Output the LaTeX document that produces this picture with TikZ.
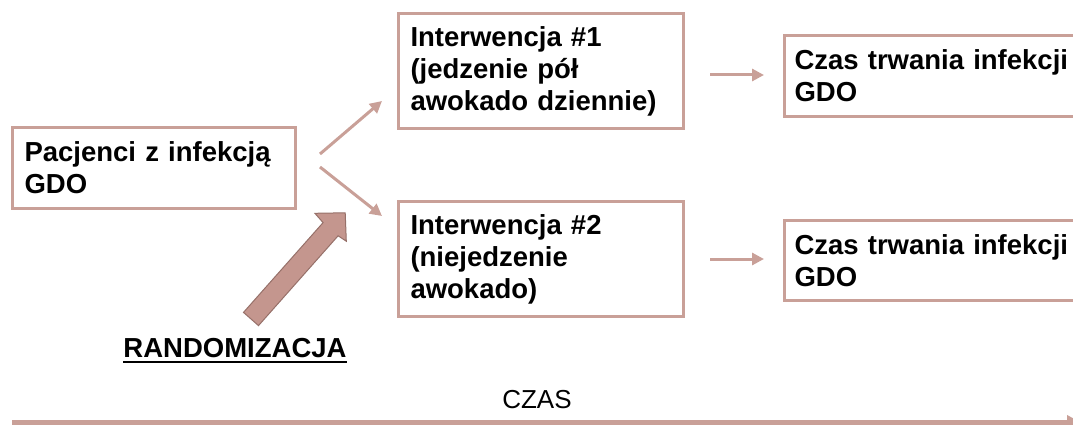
\documentclass[tikz,border=0pt]{standalone}
\usepackage{fontspec}
\setmainfont{Liberation Sans}
\usetikzlibrary{arrows.meta}
\definecolor{bord}{RGB}{201,160,152}
\definecolor{bigfill}{RGB}{196,150,142}
\definecolor{bigline}{RGB}{150,112,105}
\tikzset{
  box/.style={draw=bord, line width=3pt, fill=white, align=left, anchor=north west,
    inner xsep=12pt, inner ysep=0pt, font=\fontsize{27.5}{32}\selectfont\bfseries},
  arr/.style={draw=bord, line width=3pt, -{Triangle[length=12pt,width=12pt]}},
}
\begin{document}
\begin{tikzpicture}[x=1pt,y=-1pt]
\useasboundingbox (0,0) rectangle (1073,425);
% boxes
\node[box, text width=259pt, minimum height=81pt] (pac) at (11,126) {Pacjenci z infekcją\\GDO};
\node[box, text width=261pt, minimum height=115pt] (i1) at (397,12) {Interwencja \#1\\(jedzenie pół\\awokado dziennie)};
\node[box, text width=261pt, minimum height=115pt] (i2) at (397,200) {Interwencja \#2\\(niejedzenie\\awokado)};
\node[box, inner xsep=10pt, text width=290pt, minimum height=81pt] (c1) at (783,34) {Czas trwania infekcji\\GDO};
\node[box, inner xsep=10pt, text width=290pt, minimum height=80pt] (c2) at (783,219) {Czas trwania infekcji\\GDO};
% connectors
\coordinate (s1) at (320,154);
\coordinate (e1) at (382,101);
\coordinate (s2) at (320,167);
\coordinate (e2) at (382,216);
\draw[arr] (s1) -- (e1);
\draw[arr] (s2) -- (e2);
\coordinate (h1s) at (710,75);
\coordinate (h1e) at (764,75);
\coordinate (h2s) at (710,259);
\coordinate (h2e) at (764,259);
\draw[arr] (h1s) -- (h1e);
\draw[arr] (h2s) -- (h2e);
% big randomization arrow
\draw[fill=bigfill, draw=bigline, line width=1pt, line join=miter]
  (258.5,325.6) -- (243.5,312.4) -- (323.1,222.6) -- (314.9,213.3)
  -- (345.2,212.8) -- (346.3,241.2) -- (338.1,235.8) -- cycle;
% labels
\node[inner sep=0pt, anchor=base, font=\fontsize{27.5}{32}\selectfont\bfseries] (rand) at (235,357) {RANDOMIZACJA};
\draw[line width=2pt] ([yshift=-5pt]rand.base west) -- ([yshift=-5pt]rand.base east);
\node[inner sep=0pt, anchor=base, font=\fontsize{26}{30}\selectfont] (czas) at (537,408) {CZAS};
% time line
\coordinate (t0) at (12,422.5);
\coordinate (t1) at (1081,422.5);
\draw[draw=bord, line width=5pt, -{Triangle[length=14pt,width=14pt]}] (t0) -- (t1);
\end{tikzpicture}
\end{document}
